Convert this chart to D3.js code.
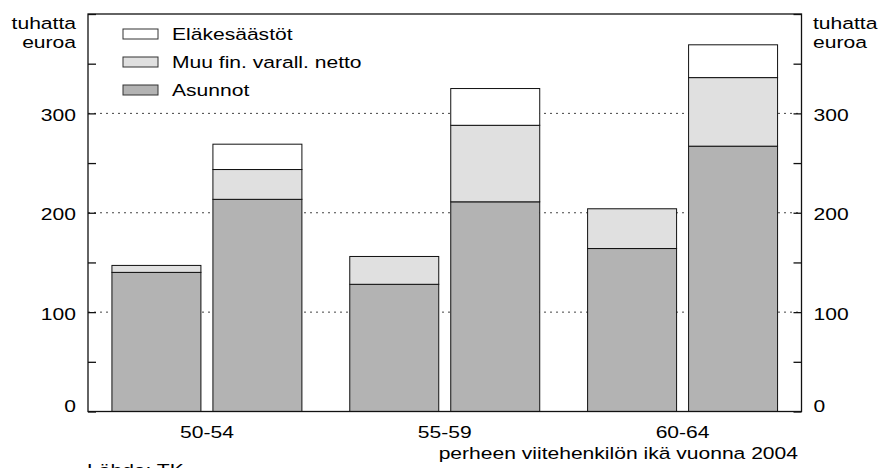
<!DOCTYPE html>
<html>
<head>
<meta charset="utf-8">
<script src="https://cdn.jsdelivr.net/npm/d3@7"></script>
<style>
  html, body { margin: 0; padding: 0; background: #fff; }
  svg { display: block; font-family: "Liberation Sans", Arial, sans-serif; }
</style>
</head>
<body>
<svg id="chart" width="879" height="468"></svg>
<script>
// age groups, two bars in each
const groups = ["50-54", "55-59", "60-64"];
const barsInGroup = ["a", "b"];

// thousand euros, bars in order 50-54 a, 50-54 b, 55-59 a, ...
const asunnot = [140, 213.5, 128, 211, 164, 267];
const muuFin = [7, 30, 28, 77, 40, 69];
const elake = [0, 25.5, 0, 37, 0, 33];

const seriesKeys = ["asunnot", "muuFin", "elake"];
const seriesNames = { elake: "Eläkesäästöt", muuFin: "Muu fin. varall. netto", asunnot: "Asunnot" };
const seriesFill = { elake: "#ffffff", muuFin: "#e0e0e0", asunnot: "#b3b3b3" };
const legendOrder = ["elake", "muuFin", "asunnot"];

const yTicks = [0, 50, 100, 150, 200, 250, 300, 350, 400];
const yLabels = [0, 100, 200, 300];
const gridValues = [100, 200, 300];

const rows = [];
groups.forEach((g, gi) => {
  barsInGroup.forEach((b, bi) => {
    const i = gi * barsInGroup.length + bi;
    rows.push({ group: g, bar: b, asunnot: asunnot[i], muuFin: muuFin[i], elake: elake[i] });
  });
});

const svg = d3.select("#chart");
const plotLeft = 88, plotRight = 801.5, plotTop = 14, plotBottom = 411.5;
const sx = 1.24; // text is a bit wide in the original
const fontSize = 17;

const x0 = d3.scaleBand().domain(groups).range([plotLeft, plotRight]);
const x1 = d3.scaleBand().domain(barsInGroup).range([0, x0.bandwidth()])
  .paddingInner(12 / 101).paddingOuter(0.237);
const y = d3.scaleLinear().domain([0, 400]).range([plotBottom, plotTop]);

function label(sel, x, yy, str, anchor) {
  sel.append("text")
    .attr("transform", `translate(${x},${yy}) scale(${sx},1)`)
    .attr("text-anchor", anchor)
    .attr("font-size", fontSize)
    .attr("fill", "#000")
    .text(str);
}

// dotted grid
svg.append("g")
  .selectAll("line")
  .data(gridValues)
  .enter()
  .append("line")
  .attr("x1", plotLeft)
  .attr("x2", plotRight)
  .attr("y1", (d) => y(d))
  .attr("y2", (d) => y(d))
  .attr("stroke", "#444")
  .attr("stroke-width", 1)
  .attr("stroke-dasharray", "2,4");

// stacked bars
const stack = d3.stack().keys(seriesKeys)(rows);
svg.append("g")
  .selectAll("g")
  .data(stack)
  .enter()
  .append("g")
  .attr("fill", (s) => seriesFill[s.key])
  .selectAll("rect")
  .data((s) => s.filter((d) => d[1] - d[0] > 0))
  .enter()
  .append("rect")
  .attr("x", (d) => x0(d.data.group) + x1(d.data.bar))
  .attr("width", x1.bandwidth())
  .attr("y", (d) => y(d[1]))
  .attr("height", (d) => y(d[0]) - y(d[1]))
  .attr("stroke", "#111")
  .attr("stroke-width", 1);

// axes
function styleAxis(g, side) {
  g.select(".domain").remove();
  g.selectAll(".tick line").attr("stroke", "#111").attr("stroke-width", 1.3);
  g.selectAll(".tick text")
    .attr("x", null)
    .attr("dy", (d) => (d === 0 ? "0" : "0.42em"))
    .attr("transform", `translate(${side === "left" ? -12 : 12},0) scale(${sx},1)`)
    .attr("font-size", fontSize)
    .attr("font-family", null)
    .attr("fill", "#000");
}

const fmt = (d) => (yLabels.includes(d) ? d : "");

svg.append("g")
  .attr("transform", `translate(${plotLeft},0)`)
  .call(d3.axisLeft(y).tickValues(yTicks).tickFormat(fmt).tickSize(-8).tickPadding(12))
  .call((g) => styleAxis(g, "left"));

svg.append("g")
  .attr("transform", `translate(${plotRight},0)`)
  .call(d3.axisRight(y).tickValues(yTicks).tickFormat(fmt).tickSize(-8).tickPadding(12))
  .call((g) => styleAxis(g, "right"));

const xAxis = svg.append("g")
  .attr("transform", `translate(0,${plotBottom})`)
  .call(d3.axisBottom(x0).tickSize(0).tickPadding(14.4));
xAxis.select(".domain").remove();
xAxis.selectAll(".tick text")
  .attr("transform", `scale(${sx},1)`)
  .attr("font-size", fontSize)
  .attr("font-family", null)
  .attr("fill", "#000");

// frame
svg.append("rect")
  .attr("x", plotLeft)
  .attr("y", plotTop)
  .attr("width", plotRight - plotLeft)
  .attr("height", plotBottom - plotTop)
  .attr("fill", "none")
  .attr("stroke", "#111")
  .attr("stroke-width", 1.3);

// unit labels
label(svg, 76, 29, "tuhatta", "end");
label(svg, 76, 48, "euroa", "end");
label(svg, 813, 29, "tuhatta", "start");
label(svg, 813, 48, "euroa", "start");

// legend
const legend = svg.append("g")
  .selectAll("g")
  .data(legendOrder)
  .enter()
  .append("g")
  .attr("transform", (d, i) => `translate(123,${34 + i * 28})`);

legend.append("rect")
  .attr("x", 0)
  .attr("y", -5)
  .attr("width", 35)
  .attr("height", 10)
  .attr("fill", (d) => seriesFill[d])
  .attr("stroke", "#333")
  .attr("stroke-width", 1);

legend.each(function (d) {
  label(d3.select(this), 49, 6, seriesNames[d], "start");
});

// bottom texts
label(svg, 798, 459, "perheen viitehenkilön ikä vuonna 2004", "end");
label(svg, 87, 476, "Lähde: TK", "start");
</script>
</body>
</html>
